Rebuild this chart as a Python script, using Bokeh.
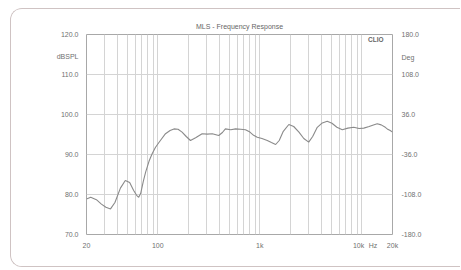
from bokeh.plotting import figure
from bokeh.models import (Range1d, LinearAxis, FixedTicker, Label)
from bokeh.embed import file_html
from bokeh.resources import INLINE

title_text = "MLS - Frequency Response"
freq = [20, 22, 25, 28, 31, 34.4, 38, 43, 48, 53, 58, 62, 65, 68, 72, 76, 82, 88, 95, 106,
        119, 132, 144, 158, 173, 190, 209, 235, 272, 305, 342, 396, 430, 460, 520, 578, 650, 724, 800, 870,
        944, 1050, 1184, 1300, 1430, 1550, 1700, 1926, 2150, 2420, 2700, 3018, 3300, 3660, 4100, 4580, 5100,
        5700, 6440, 7300, 8350, 9400, 10460, 11800, 13000, 14160, 15500, 17000, 17760, 19000, 20000]
spl = [78.9, 79.3, 78.7, 77.6, 76.8, 76.4, 78.0, 81.6, 83.5, 83.0, 81.0, 79.8, 79.3, 80.3, 83.2, 85.6,
       88.3, 90.2, 91.8, 93.5, 95.2, 96.0, 96.4, 96.3, 95.6, 94.5, 93.5, 94.2, 95.2, 95.1, 95.2, 94.75,
       95.5, 96.4, 96.2, 96.4, 96.3, 96.2, 95.6, 94.8, 94.3, 94.0, 93.5, 93.0, 92.5, 93.5, 95.8, 97.5,
       97.0, 95.6, 94.0, 93.1, 94.5, 96.8, 97.9, 98.3, 97.8, 96.8, 96.2, 96.6, 96.8, 96.5, 96.6, 97.0,
       97.4, 97.7, 97.4, 96.8, 96.4, 96.0, 95.6]

x_ticks = [20, 100, 1000, 9300, 12900, 20000]
x_tick_labels = ["20", "100", "1k", "10k", "Hz", "20k"]
x_grid = [20, 30, 40, 50, 60, 70, 80, 90, 100, 200, 300, 400, 500, 600, 700, 800, 900, 1000,
          2000, 3000, 4000, 5000, 6000, 7000, 8000, 9000, 10000, 20000]
y_ticks = [70, 80, 90, 100, 110, 114.4, 120]
y_tick_labels = ["70.0", "80.0", "90.0", "100.0", "110.0", "dBSPL", "120.0"]
deg_ticks = [-180, -108, -36, 36, 108, 138.6, 180]
deg_tick_labels = ["-180.0", "-108.0", "-36.0", "36.0", "108.0", "Deg", "180.0"]

FONT = "Liberation Sans"
TXT = "#707070"
CARD = "#cfc3c3"

p = figure(width=450, height=259, output_backend="svg", toolbar_location=None,
           x_axis_type="log", x_range=Range1d(20, 20000), y_range=Range1d(70, 120),
           min_border_left=75, min_border_right=69, min_border_top=25, min_border_bottom=34,
           title=title_text)
p.styles = {
    "margin-left": "10px",
    "margin-top": "8px",
    "border-left": f"1px solid {CARD}",
    "border-top": f"1px solid {CARD}",
    "border-bottom": f"1px solid {CARD}",
    "border-top-left-radius": "12px",
    "border-bottom-left-radius": "12px",
    "overflow": "hidden",
}
p.title.align = "center"
p.title.text_font = FONT
p.title.text_font_size = "7px"
p.title.text_font_style = "normal"
p.title.text_color = "#666666"
p.title.padding = (0, 0, 4, 0)

p.background_fill_color = "white"
p.border_fill_color = "white"
p.outline_line_color = "#a8a8a8"
p.outline_line_width = 1

p.extra_y_ranges = {"deg": Range1d(-180, 180)}
right = LinearAxis(y_range_name="deg")
p.add_layout(right, "right")

for ax in [p.xaxis[0], p.yaxis[0], right]:
    ax.axis_line_color = None
    ax.major_tick_line_color = None
    ax.minor_tick_line_color = None
    ax.major_label_text_font = FONT
    ax.major_label_text_font_size = "7px"
    ax.major_label_text_color = TXT
    ax.major_label_standoff = 2
p.xaxis[0].major_label_standoff = 1
right.major_label_standoff = 3

p.xaxis[0].ticker = FixedTicker(ticks=x_ticks)
p.xaxis[0].major_label_overrides = {t: l for t, l in zip(x_ticks, x_tick_labels)}
p.yaxis[0].ticker = FixedTicker(ticks=y_ticks)
p.yaxis[0].major_label_overrides = {t: l for t, l in zip(y_ticks, y_tick_labels)}
right.ticker = FixedTicker(ticks=deg_ticks)
right.major_label_overrides = {t: l for t, l in zip(deg_ticks, deg_tick_labels)}

p.xgrid.ticker = FixedTicker(ticks=x_grid)
p.ygrid.ticker = FixedTicker(ticks=[70, 80, 90, 100, 110, 120])
p.xgrid.grid_line_color = "#d4d4d4"
p.ygrid.grid_line_color = "#d4d4d4"

p.line(freq, spl, line_color="#8a8a8a", line_width=1.1)

p.add_layout(Label(x=16330, y=118.75, text="CLIO", text_align="right", text_baseline="middle",
                   text_font=FONT, text_font_size="6.5px", text_font_style="bold", text_color="#666666"))

open("out.html", "w").write(file_html(p, INLINE))
